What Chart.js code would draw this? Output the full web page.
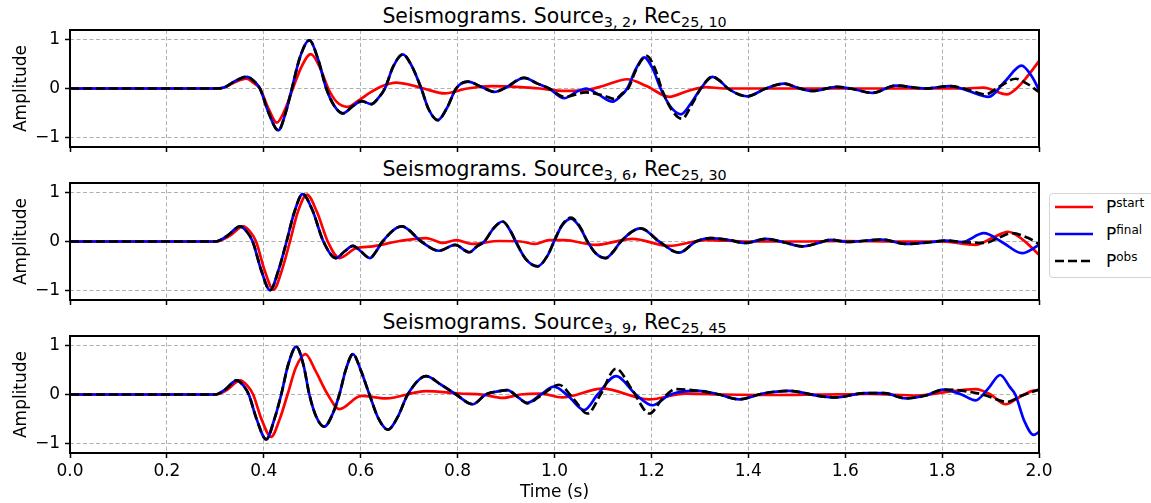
<!DOCTYPE html>
<html>
<head>
<meta charset="utf-8">
<script src="https://cdn.jsdelivr.net/npm/chart.js@4/dist/chart.umd.min.js"></script>
<style>
  body { margin: 0; width: 1151px; height: 503px; background: #fff; position: relative; overflow: hidden; font-family: "DejaVu Sans", sans-serif; color: #000; }
  canvas { position: absolute; left: 0; }
  .ttl { position: absolute; left: 70px; width: 969px; text-align: center; font-size: 20.4px; line-height: 22px; white-space: nowrap; }
  .ttl sub { font-size: 14.3px; line-height: 0; vertical-align: -3.5px; }
  #legend { position: absolute; left: 1049px; top: 193px; width: 110px; height: 85px; box-sizing: border-box; border: 1px solid #d4d4d4; border-radius: 4px; background: rgba(255,255,255,0.8); }
  #legend svg { position: absolute; left: 5px; }
  #legend .lab { position: absolute; left: 56px; font-size: 17px; line-height: 17px; white-space: nowrap; }
  #legend sup { font-size: 12px; line-height: 0; vertical-align: 6px; }
</style>
</head>
<body>
<div class="ttl" style="top:5px">Seismograms. Source<sub>3, 2</sub>, Rec<sub>25, 10</sub></div>
<div class="ttl" style="top:158px">Seismograms. Source<sub>3, 6</sub>, Rec<sub>25, 30</sub></div>
<div class="ttl" style="top:311px">Seismograms. Source<sub>3, 9</sub>, Rec<sub>25, 45</sub></div>

<div id="legend">
  <svg style="top:10px" width="40" height="6"><line x1="0" y1="3" x2="38" y2="3" stroke="#ff0000" stroke-width="2.7"/></svg>
  <div class="lab" style="top:5px">P<sup>start</sup></div>
  <svg style="top:37px" width="40" height="6"><line x1="0" y1="3" x2="38" y2="3" stroke="#0000ff" stroke-width="2.7"/></svg>
  <div class="lab" style="top:32px">P<sup>final</sup></div>
  <svg style="top:64px" width="40" height="6"><line x1="0" y1="3" x2="38" y2="3" stroke="#000" stroke-width="2.7" stroke-dasharray="9 4"/></svg>
  <div class="lab" style="top:59px">P<sup>obs</sup></div>
</div>

<script>
// time axis and amplitude ticks
const timeMin = 0, timeMax = 2, timeStep = 0.2;
const ampTicks = [-1, 0, 1];

// source 3,2 / receiver 25,10
const s2Start = [[0,0],[0.30,0],[0.318,0.02],[0.340,0.13],[0.364,0.20],[0.378,0.12],[0.392,0],[0.410,-0.42],[0.427,-0.70],[0.443,-0.45],[0.460,0],[0.478,0.45],[0.497,0.705],[0.515,0.45],[0.533,0],[0.550,-0.27],[0.573,-0.377],[0.595,-0.25],[0.62,-0.08],[0.645,0.05],[0.673,0.12],[0.70,0.08],[0.73,0],[0.773,-0.10],[0.82,0.0],[0.872,0.05],[0.93,0.03],[0.97,0],[1.02,-0.05],[1.06,-0.04],[1.10,0.05],[1.150,0.19],[1.19,0.05],[1.237,-0.17],[1.275,-0.05],[1.312,0.03],[1.35,0.0],[1.45,0.0],[1.55,0],[1.65,0],[1.75,0],[1.85,0],[1.885,0.02],[1.934,-0.12],[1.95,-0.03],[1.972,0.2],[2.0,0.56]];
const s2Final = [[0,0],[0.30,0],[0.318,0.02],[0.340,0.15],[0.365,0.24],[0.380,0.15],[0.392,0],[0.410,-0.5],[0.430,-0.86],[0.445,-0.5],[0.458,0],[0.475,0.65],[0.494,0.99],[0.512,0.6],[0.529,0],[0.545,-0.35],[0.563,-0.51],[0.585,-0.35],[0.602,-0.26],[0.622,-0.32],[0.636,-0.2],[0.650,0],[0.667,0.45],[0.687,0.70],[0.706,0.45],[0.725,0],[0.740,-0.42],[0.759,-0.65],[0.778,-0.4],[0.797,0],[0.821,0.14],[0.850,0.03],[0.876,-0.07],[0.900,0.02],[0.937,0.22],[0.965,0.1],[0.989,0],[1.020,-0.2],[1.045,-0.07],[1.065,0.0],[1.090,-0.12],[1.120,-0.27],[1.137,-0.15],[1.150,0],[1.168,0.4],[1.185,0.64],[1.203,0.4],[1.219,0],[1.240,-0.38],[1.261,-0.53],[1.282,-0.3],[1.302,0],[1.326,0.24],[1.342,0.15],[1.358,0],[1.398,-0.16],[1.436,0],[1.474,0.10],[1.500,0.02],[1.532,-0.05],[1.584,0.034],[1.62,-0.02],[1.656,-0.09],[1.704,0.06],[1.765,0],[1.817,0.05],[1.855,-0.05],[1.896,-0.17],[1.93,0.15],[1.964,0.47],[1.985,0.25],[2.0,-0.03]];
const s2Obs = [[0,0],[0.30,0],[0.318,0.02],[0.340,0.15],[0.365,0.24],[0.380,0.15],[0.392,0],[0.410,-0.5],[0.430,-0.86],[0.445,-0.5],[0.458,0],[0.475,0.65],[0.494,0.99],[0.512,0.6],[0.529,0],[0.545,-0.35],[0.563,-0.51],[0.585,-0.35],[0.602,-0.26],[0.622,-0.32],[0.636,-0.2],[0.650,0],[0.667,0.45],[0.687,0.70],[0.706,0.45],[0.725,0],[0.740,-0.42],[0.759,-0.65],[0.778,-0.4],[0.797,0],[0.821,0.14],[0.850,0.03],[0.876,-0.07],[0.900,0.02],[0.937,0.22],[0.965,0.1],[0.989,0],[1.020,-0.17],[1.065,-0.08],[1.100,-0.14],[1.125,-0.22],[1.140,-0.1],[1.152,0],[1.170,0.42],[1.190,0.67],[1.207,0.42],[1.221,0],[1.242,-0.44],[1.263,-0.62],[1.284,-0.32],[1.302,0],[1.326,0.24],[1.342,0.15],[1.358,0],[1.398,-0.16],[1.436,0],[1.474,0.10],[1.500,0.02],[1.532,-0.05],[1.584,0.034],[1.62,-0.02],[1.656,-0.09],[1.704,0.06],[1.765,0],[1.817,0.05],[1.855,-0.03],[1.889,-0.12],[1.92,0.05],[1.952,0.2],[1.975,0.1],[2.0,-0.07]];

// source 3,6 / receiver 25,30
const s6Start = [[0,0],[0.30,0],[0.33,0.12],[0.357,0.31],[0.372,0.2],[0.384,0],[0.402,-0.6],[0.420,-0.99],[0.437,-0.6],[0.454,0],[0.470,0.6],[0.489,0.96],[0.510,0.6],[0.532,0],[0.556,-0.34],[0.59,-0.14],[0.625,-0.1],[0.68,0.01],[0.735,0.07],[0.77,-0.03],[0.797,0.03],[0.83,-0.05],[0.886,0.01],[0.93,0.0],[0.96,-0.05],[0.989,0.03],[1.02,0.03],[1.085,-0.07],[1.161,0.055],[1.236,-0.09],[1.312,0.03],[1.4,0],[1.5,0],[1.6,0.01],[1.7,0],[1.8,0],[1.869,-0.07],[1.905,0.08],[1.936,0.2],[1.965,0.05],[2.0,-0.27]];
const s6Final = [[0,0],[0.30,0],[0.325,0.12],[0.351,0.31],[0.365,0.2],[0.377,0],[0.395,-0.6],[0.413,-1.0],[0.430,-0.6],[0.447,0],[0.463,0.6],[0.480,0.97],[0.500,0.65],[0.523,0],[0.549,-0.34],[0.567,-0.2],[0.584,-0.09],[0.600,-0.2],[0.619,-0.34],[0.632,-0.2],[0.645,0],[0.685,0.31],[0.725,0],[0.761,-0.19],[0.795,-0.07],[0.824,-0.22],[0.840,-0.1],[0.855,0],[0.875,0.28],[0.893,0.41],[0.910,0.2],[0.92,0],[0.94,-0.35],[0.965,-0.51],[0.985,-0.3],[0.999,0],[1.015,0.32],[1.034,0.47],[1.052,0.3],[1.068,0],[1.085,-0.24],[1.106,-0.34],[1.122,-0.2],[1.137,0],[1.178,0.27],[1.216,0],[1.257,-0.23],[1.292,0],[1.322,0.07],[1.36,0.03],[1.394,-0.03],[1.436,0.055],[1.475,-0.02],[1.511,-0.1],[1.545,-0.03],[1.570,0.035],[1.604,-0.01],[1.676,0.04],[1.725,-0.05],[1.779,-0.01],[1.807,0.02],[1.841,-0.01],[1.886,0.17],[1.925,-0.02],[1.965,-0.24],[2.0,-0.07]];
const s6Obs = [[0,0],[0.30,0],[0.325,0.12],[0.351,0.31],[0.365,0.2],[0.377,0],[0.395,-0.6],[0.413,-1.0],[0.430,-0.6],[0.447,0],[0.463,0.6],[0.480,0.97],[0.500,0.65],[0.523,0],[0.549,-0.34],[0.567,-0.2],[0.584,-0.09],[0.600,-0.2],[0.619,-0.34],[0.632,-0.2],[0.645,0],[0.685,0.31],[0.725,0],[0.761,-0.19],[0.795,-0.07],[0.824,-0.22],[0.840,-0.1],[0.855,0],[0.875,0.28],[0.893,0.41],[0.910,0.2],[0.92,0],[0.94,-0.35],[0.965,-0.51],[0.985,-0.3],[0.999,0],[1.015,0.33],[1.034,0.49],[1.052,0.31],[1.068,0],[1.085,-0.24],[1.106,-0.34],[1.122,-0.2],[1.137,0],[1.178,0.27],[1.216,0],[1.257,-0.23],[1.292,0],[1.322,0.07],[1.36,0.03],[1.394,-0.03],[1.436,0.055],[1.475,-0.02],[1.511,-0.1],[1.545,-0.03],[1.570,0.035],[1.604,-0.01],[1.676,0.04],[1.725,-0.05],[1.779,-0.01],[1.807,0.02],[1.841,-0.01],[1.889,-0.03],[1.917,0.08],[1.944,0.17],[1.978,0.07],[2.0,-0.05]];

// source 3,9 / receiver 25,45
const s9Start = [[0,0],[0.30,0],[0.325,0.1],[0.351,0.29],[0.366,0.18],[0.378,0],[0.395,-0.5],[0.415,-0.87],[0.433,-0.5],[0.449,0],[0.466,0.55],[0.486,0.83],[0.506,0.5],[0.532,0],[0.556,-0.30],[0.601,-0.03],[0.652,-0.08],[0.735,0.07],[0.804,0.02],[0.85,0],[0.893,-0.07],[0.93,0.0],[0.97,0.02],[1.016,-0.06],[1.099,0.12],[1.195,-0.1],[1.27,0.02],[1.35,0],[1.45,-0.01],[1.55,0],[1.65,0.01],[1.75,-0.02],[1.80,0.04],[1.869,0.11],[1.90,0.0],[1.931,-0.2],[1.96,-0.05],[1.985,0.07],[2.0,0.09]];
const s9Final = [[0,0],[0.30,0],[0.32,0.1],[0.344,0.29],[0.358,0.18],[0.369,0],[0.385,-0.5],[0.405,-0.92],[0.422,-0.5],[0.436,0],[0.450,0.6],[0.467,0.98],[0.482,0.6],[0.494,0],[0.508,-0.45],[0.525,-0.66],[0.542,-0.4],[0.556,0],[0.569,0.5],[0.584,0.83],[0.600,0.5],[0.618,0],[0.636,-0.48],[0.656,-0.72],[0.677,-0.45],[0.697,0],[0.735,0.375],[0.766,0.2],[0.797,0],[0.831,-0.2],[0.858,0],[0.886,0.07],[0.903,0.09],[0.925,-0.06],[0.944,-0.17],[0.972,0],[0.999,0.16],[1.03,-0.05],[1.061,-0.32],[1.089,0],[1.127,0.375],[1.168,0],[1.202,-0.22],[1.235,-0.02],[1.257,0.05],[1.298,0.075],[1.34,0],[1.381,-0.1],[1.43,0.02],[1.484,0.075],[1.546,-0.03],[1.580,-0.06],[1.642,0.03],[1.68,0.03],[1.725,-0.08],[1.766,-0.02],[1.803,0.1],[1.84,0.0],[1.869,-0.12],[1.895,0.12],[1.920,0.40],[1.940,0.15],[1.951,0],[1.970,-0.55],[1.989,-0.83],[2.0,-0.77]];
const s9Obs = [[0,0],[0.30,0],[0.32,0.1],[0.344,0.29],[0.358,0.18],[0.369,0],[0.385,-0.5],[0.405,-0.92],[0.422,-0.5],[0.436,0],[0.450,0.6],[0.467,0.98],[0.482,0.6],[0.494,0],[0.508,-0.45],[0.525,-0.66],[0.542,-0.4],[0.556,0],[0.569,0.5],[0.584,0.83],[0.600,0.5],[0.618,0],[0.636,-0.48],[0.656,-0.72],[0.677,-0.45],[0.697,0],[0.735,0.375],[0.766,0.2],[0.797,0],[0.831,-0.2],[0.858,0],[0.886,0.07],[0.903,0.09],[0.925,-0.06],[0.944,-0.18],[0.975,0],[1.009,0.2],[1.04,-0.1],[1.068,-0.39],[1.095,0],[1.127,0.53],[1.16,0.1],[1.196,-0.39],[1.222,-0.1],[1.25,0.11],[1.298,0.075],[1.34,0],[1.381,-0.1],[1.43,0.02],[1.484,0.075],[1.546,-0.03],[1.580,-0.06],[1.642,0.03],[1.68,0.03],[1.725,-0.08],[1.766,-0.02],[1.803,0.1],[1.83,0.09],[1.884,0.0],[1.934,-0.15],[1.965,-0.02],[2.0,0.1]];

// canvas placement: 16px above each plot box, axis strip below it
const panels = [
  { start: s2Start, final: s2Final, obs: s2Obs, top: 14, height: 149, axisH: 16, labels: false },
  { start: s6Start, final: s6Final, obs: s6Obs, top: 167, height: 149, axisH: 16, labels: false },
  { start: s9Start, final: s9Final, obs: s9Obs, top: 320, height: 183, axisH: 50, labels: true }
];

const tickFont = { family: 'DejaVu Sans', size: 17 };
const gridGray = '#b0b0b0';
const lw = 2.7;

// axes box on all four sides, over the traces
const frame = {
  id: 'frame',
  afterDatasetsDraw(chart) {
    const { ctx, chartArea: a } = chart;
    ctx.save();
    ctx.strokeStyle = '#000';
    ctx.lineWidth = 2;
    ctx.strokeRect(a.left, a.top, a.right - a.left, a.bottom - a.top);
    ctx.restore();
  }
};

const pts = arr => arr.map(([x, y]) => ({ x, y }));

function trace(label, data, color, order, dash) {
  return {
    label, data: pts(data), borderColor: color, borderWidth: lw,
    borderDash: dash || [], pointRadius: 0, fill: false,
    cubicInterpolationMode: 'monotone', order
  };
}

panels.forEach(p => {
  const cv = document.createElement('canvas');
  cv.width = 1151;
  cv.height = p.height;
  cv.style.top = p.top + 'px';
  document.body.appendChild(cv);

  new Chart(cv, {
    type: 'line',
    data: {
      datasets: [
        trace('start', p.start, '#ff0000', 3),
        trace('final', p.final, '#0000ff', 2),
        trace('obs', p.obs, '#000000', 1, [9, 4])
      ]
    },
    options: {
      responsive: false,
      animation: false,
      events: [],
      layout: { padding: { top: 16, right: 112, left: 0, bottom: 0 } },
      plugins: { legend: { display: false }, tooltip: { enabled: false } },
      scales: {
        x: {
          type: 'linear', min: timeMin, max: timeMax,
          afterFit: s => { s.height = p.axisH; },
          ticks: {
            display: p.labels, stepSize: timeStep, padding: 3,
            color: '#000', font: tickFont, maxRotation: 0,
            callback: v => v.toFixed(1)
          },
          grid: { color: gridGray, lineWidth: 1, tickColor: '#000', tickLength: 5, tickWidth: 1.5 },
          border: { display: false, dash: [4, 2.5] },
          title: { display: p.labels, text: 'Time (s)', color: '#000', font: tickFont, padding: { top: 0, bottom: 0 } }
        },
        y: {
          min: -1.2, max: 1.2,
          afterFit: s => { s.width = 70; },
          afterBuildTicks: s => { s.ticks = ampTicks.map(v => ({ value: v })); },
          ticks: {
            padding: 5, color: '#000', font: tickFont,
            callback: v => String(v).replace('-', '\u2212')
          },
          grid: { color: gridGray, lineWidth: 1, tickColor: '#000', tickLength: 5, tickWidth: 1.5 },
          border: { display: false, dash: [4, 2.5] },
          title: { display: true, text: 'Amplitude', color: '#000', font: tickFont, padding: { top: 11, bottom: 0 } }
        }
      }
    },
    plugins: [frame]
  });
});
</script>
</body>
</html>
